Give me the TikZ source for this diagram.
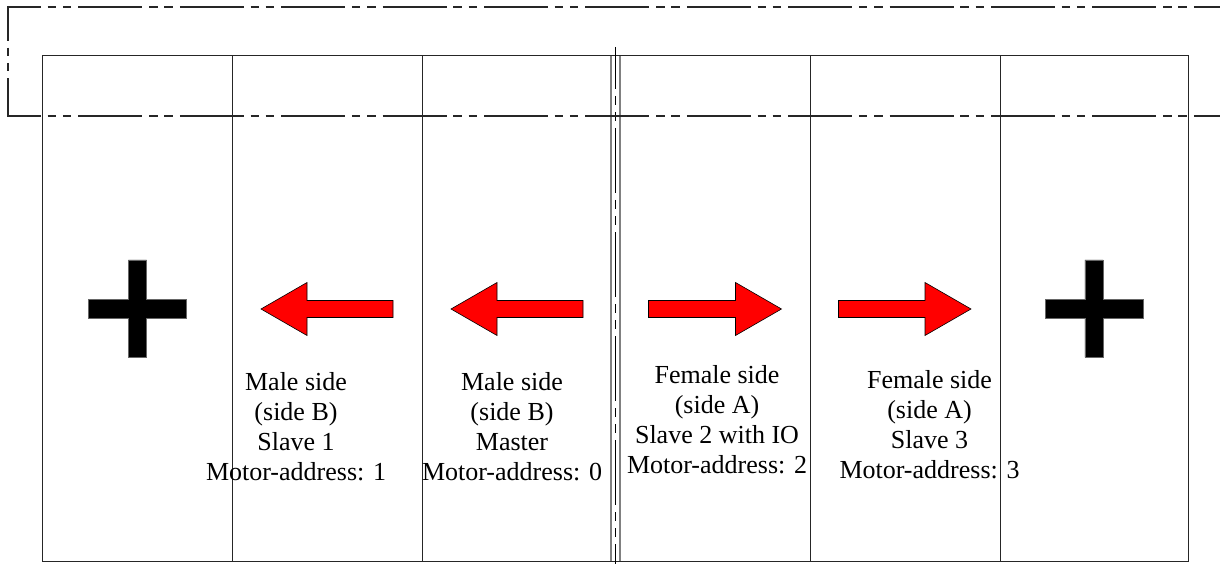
\documentclass[tikz,border=0pt]{standalone}
\usepackage{fontspec}
\setmainfont{Liberation Serif}
\begin{document}
\begin{tikzpicture}[x=1pt,y=-1pt,
  frame/.style={draw=black!85,line width=1pt},
  chain/.style={draw=black!85,line width=2pt,
    dash pattern=on 64pt off 6.7pt on 8.5pt off 6.7pt on 8.5pt off 7pt},
  seam/.style={draw=black!50,line width=2pt},
  axisline/.style={draw=black,line width=1pt,
    dash pattern=on 65pt off 7pt on 9pt off 7pt on 9pt off 7pt},
  redarrow/.style={fill=red,draw=black,line width=0.6pt,line join=miter},
  plusmark/.style={fill=black,draw=black!60,line width=0.5pt},
  sidetext/.style={align=center,anchor=base,inner sep=0pt,
    font=\fontsize{26}{30}\selectfont}]
\useasboundingbox (0,0) rectangle (1220,564);

% outer frame and the six slots
\draw[frame] (42,56) rectangle (1188.5,561);
\foreach \x in {232,422,810,1000}
  \draw[frame] (\x,56) -- (\x,561);

% joint between the two halves
\draw[seam] (611,56) -- (611,561);
\draw[seam] (620,56) -- (620,561);
\draw[axisline,dash phase=23pt] (615.5,47) -- (615.5,564);

% dash-dotted band across the top
\draw[chain,dash phase=30pt] (7,7) -- (1222,7);
\draw[chain,dash phase=29pt] (8,6) -- (8,117);
\draw[chain,dash phase=30pt] (7,116) -- (1222,116);

% plus signs at both ends
\foreach \cx in {137.5,1094}
  \draw[plusmark] (\cx-9.2,259.8) -- (\cx+9.2,259.8) -- (\cx+9.2,299.3)
    -- (\cx+48.8,299.3) -- (\cx+48.8,318.3) -- (\cx+9.2,318.3)
    -- (\cx+9.2,357.3) -- (\cx-9.2,357.3) -- (\cx-9.2,318.3)
    -- (\cx-48.8,318.3) -- (\cx-48.8,299.3) -- (\cx-9.2,299.3) -- cycle;

% arrows pointing left (tip, tail)
\foreach \tip/\tail in {261/393,451/583}
  \draw[redarrow] (\tip,309) -- (\tip+46,282.5) -- (\tip+46,300.5)
    -- (\tail,300.5) -- (\tail,317.5) -- (\tip+46,317.5)
    -- (\tip+46,335.5) -- cycle;

% arrows pointing right (tail, tip)
\foreach \tail/\tip in {648.5/781.5,838.5/971}
  \draw[redarrow] (\tip,309) -- (\tip-46,282.5) -- (\tip-46,300.5)
    -- (\tail,300.5) -- (\tail,317.5) -- (\tip-46,317.5)
    -- (\tip-46,335.5) -- cycle;

% slot descriptions (anchored at the baseline of the last line)
\node[sidetext] (slave1) at (296,480)
  {Male side\\(side B)\\Slave 1\\Motor-address: 1};
\node[sidetext] (master) at (512,480)
  {Male side\\(side B)\\Master\\Motor-address: 0};
\node[sidetext] (slave2) at (717,473)
  {Female side\\(side A)\\Slave 2 with IO\\Motor-address: 2};
\node[sidetext] (slave3) at (929.5,478)
  {Female side\\(side A)\\Slave 3\\Motor-address: 3};
\end{tikzpicture}
\end{document}
